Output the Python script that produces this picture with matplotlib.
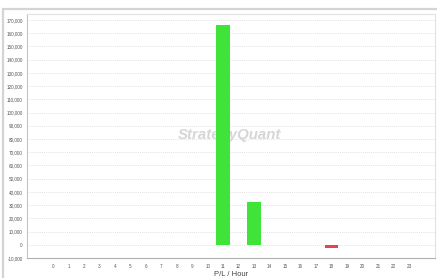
import matplotlib
matplotlib.use("Agg")
import matplotlib.pyplot as plt
from matplotlib.patches import Rectangle
from matplotlib.ticker import FuncFormatter, MultipleLocator

hours = [0, 1, 2, 3, 4, 5, 6, 7, 8, 9, 10, 11, 12, 13, 14, 15, 16, 17, 18, 19, 20, 21, 22, 23]
pl_values = [0, 0, 0, 0, 0, 0, 0, 0, 0, 0, 0, 166500, 0, 32000, 0, 0, 0, 0, -2200, 0, 0, 0, 0, 0]
x_label = "P/L / Hour"
watermark = "StrategyQuant"

GREEN = "#3fe33a"
RED = "#e8444c"

plt.rcParams['font.family'] = ['Liberation Sans', 'DejaVu Sans']

W, H = 437, 278
fig = plt.figure(figsize=(W / 100, H / 100), dpi=100)
fig.patch.set_facecolor("white")

# outer frame
fig.patches.append(Rectangle((3 / W, -0.05), 1.2, (278 - 9) / H + 0.05,
                             transform=fig.transFigure, fill=False,
                             edgecolor="#d4d4d4", linewidth=1.6, zorder=0))

ax = fig.add_axes([27 / W, (H - 258) / H, (435 - 27) / W, (258 - 14) / H])
colors = [GREEN if v >= 0 else RED for v in pl_values]
ax.bar(hours, pl_values, width=0.88, color=colors, linewidth=0, zorder=3)

ax.set_xlim(-1.68, 24.68)
ax.set_ylim(-10000, 174500)
ax.yaxis.set_major_locator(MultipleLocator(10000))
ax.yaxis.set_major_formatter(FuncFormatter(lambda v, p: f"{int(v):,}"))
ax.set_xticks(hours)
ax.set_xticklabels([str(h) for h in hours])

ax.grid(axis="y", linestyle=(0, (1, 1.5)), color="#d8d8d8", linewidth=0.6, zorder=0)
ax.set_axisbelow(True)

for s in ["top", "right"]:
    ax.spines[s].set_color("#e2e2e2")
    ax.spines[s].set_linewidth(0.8)
ax.spines["left"].set_color("#c4c4c4")
ax.spines["left"].set_linewidth(0.8)
ax.spines["bottom"].set_color("#b0b0b0")
ax.spines["bottom"].set_linewidth(0.8)

ax.tick_params(axis="both", labelsize=3.3, colors="#555555", length=0, pad=3)
ax.tick_params(axis="x", pad=4)
ax.set_xlabel(x_label, fontsize=5.5, color="#444444", labelpad=2)

ax.text(230 / W, 1 - 135 / H, watermark, fontsize=10.8, fontweight="bold",
        fontstyle="italic", color="#d6d6d6", ha="center", va="center",
        transform=fig.transFigure, zorder=2)

fig.savefig("out.png", dpi=100, facecolor="white")
